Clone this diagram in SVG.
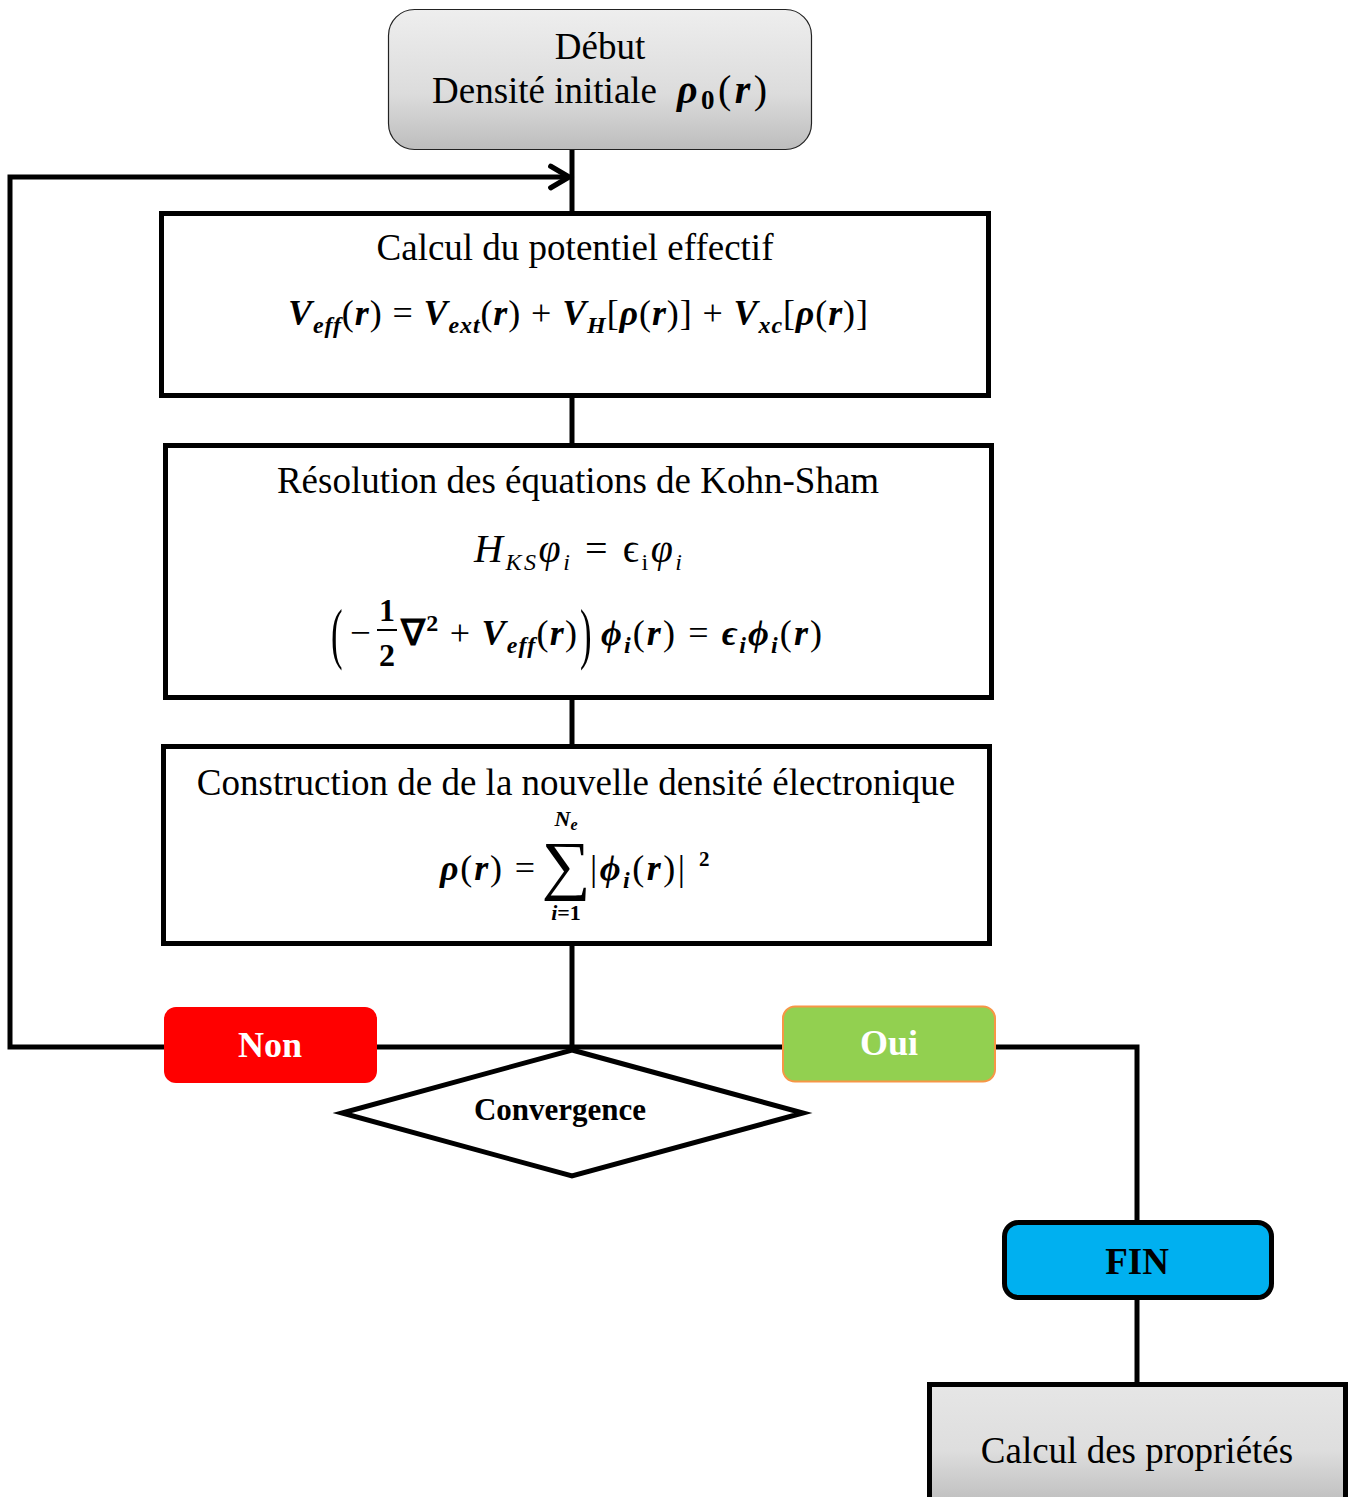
<svg xmlns="http://www.w3.org/2000/svg" width="1355" height="1497" viewBox="0 0 1355 1497">
<defs>
<linearGradient id="gTop" x1="0" y1="0" x2="0" y2="1">
<stop offset="0" stop-color="#eeeeee"/><stop offset="0.6" stop-color="#dcdcdc"/><stop offset="1" stop-color="#bdbdbd"/>
</linearGradient>
<linearGradient id="gBot" x1="0" y1="0" x2="0" y2="1">
<stop offset="0" stop-color="#e6e6e6"/><stop offset="0.5" stop-color="#dedede"/><stop offset="1" stop-color="#b8b8b8"/>
</linearGradient>
<marker id="arr" markerUnits="userSpaceOnUse" markerWidth="30" markerHeight="30" viewBox="-4 -4 26 28" refX="17" refY="10" orient="auto">
<path d="M0,0 L17,10 L0,20" fill="none" stroke="#000" stroke-width="5" stroke-linecap="round" stroke-linejoin="miter"/>
</marker>
<style>
.t{font-family:"Liberation Serif","Times New Roman",serif;font-size:37px;fill:#000}
.m{font-family:"Liberation Serif","Times New Roman",serif;font-size:36px;font-weight:bold;font-style:italic;fill:#000}
.mi{font-family:"Liberation Serif","Times New Roman",serif;font-size:40px;font-style:italic;fill:#000}
.u{font-style:normal;font-weight:normal}
.s{font-size:24px}
.box{fill:#fff;stroke:#000;stroke-width:5}
.ln{fill:none;stroke:#000;stroke-width:5}
.lab{font-family:"Liberation Serif","Times New Roman",serif;font-weight:bold;text-anchor:middle}
</style>
</defs>

<g id="connectors">
<line class="ln" x1="572" y1="149" x2="572" y2="213"/>
<polyline class="ln" points="572,1047 10,1047 10,177 569,177" marker-end="url(#arr)"/>
<line class="ln" x1="572" y1="396" x2="572" y2="445"/>
<line class="ln" x1="572" y1="698" x2="572" y2="746"/>
<line class="ln" x1="572" y1="944" x2="572" y2="1050"/>
<polyline class="ln" points="572,1047 1137,1047 1137,1222"/>
<line class="ln" x1="1137" y1="1298" x2="1137" y2="1383"/>
</g>

<g id="debut">
<rect x="388.5" y="9.5" width="423" height="140" rx="26" fill="url(#gTop)" stroke="#222" stroke-width="1.2"/>
<text class="t" x="600" y="59" text-anchor="middle">Début</text>
<text class="t" x="432" y="103">Densité initiale</text>
<text class="m" x="677" y="103" textLength="90" style="font-size:40px">ρ<tspan class="s" style="font-size:27px;font-style:normal" dy="6">0</tspan><tspan class="u" dy="-6">(</tspan>r<tspan class="u">)</tspan></text>
</g>

<g id="potentiel">
<rect class="box" x="161.5" y="213.5" width="827" height="182"/>
<text class="t" x="575" y="260" text-anchor="middle">Calcul du potentiel effectif</text>
<text class="m" x="288" y="325" textLength="580" lengthAdjust="spacing">V<tspan class="s" dy="8">eff</tspan><tspan class="u" dy="-8">(</tspan>r<tspan class="u">) = </tspan>V<tspan class="s" dy="8">ext</tspan><tspan class="u" dy="-8">(</tspan>r<tspan class="u">) + </tspan>V<tspan class="s" dy="8">H</tspan><tspan class="u" dy="-8">[</tspan>ρ<tspan class="u">(</tspan>r<tspan class="u">)] + </tspan>V<tspan class="s" dy="8">xc</tspan><tspan class="u" dy="-8">[</tspan>ρ<tspan class="u">(</tspan>r<tspan class="u">)]</tspan></text>
</g>

<g id="kohnsham">
<rect class="box" x="165.5" y="445.5" width="826" height="252"/>
<text class="t" x="578" y="493" text-anchor="middle">Résolution des équations de Kohn-Sham</text>
<text class="mi" x="474" y="562" textLength="208" lengthAdjust="spacing">H<tspan class="s" dy="8">KS</tspan><tspan dy="-8">φ</tspan><tspan class="s" dy="8">i</tspan><tspan class="u" dy="-8"> = ϵ</tspan><tspan class="u s" dy="8">i</tspan><tspan dy="-8">φ</tspan><tspan class="s" dy="8">i</tspan></text>
<text class="t" transform="translate(331,656) scale(0.62,1.2)" style="font-size:56px">(</text>
<text class="t" x="350" y="645">−</text>
<text class="m" x="387" y="621" text-anchor="middle" style="font-style:normal;font-size:32px">1</text>
<line x1="377" y1="630" x2="397" y2="630" stroke="#000" stroke-width="2"/>
<text class="m" x="387" y="666" text-anchor="middle" style="font-style:normal;font-size:32px">2</text>
<text class="m" x="401" y="645" textLength="176" lengthAdjust="spacing"><tspan style="font-style:normal">∇</tspan><tspan class="s u" dy="-14" style="font-weight:bold">2</tspan><tspan class="u" dy="14"> + </tspan>V<tspan class="s" dy="8">eff</tspan><tspan class="u" dy="-8">(</tspan>r<tspan class="u">)</tspan></text>
<text class="t" transform="translate(580,656) scale(0.62,1.2)" style="font-size:56px">)</text>
<text class="m" x="601" y="645" textLength="221" lengthAdjust="spacing">ϕ<tspan class="s" dy="8">i</tspan><tspan class="u" dy="-8">(</tspan>r<tspan class="u">) = </tspan>ϵ<tspan class="s" dy="8">i</tspan><tspan dy="-8">ϕ</tspan><tspan class="s" dy="8">i</tspan><tspan class="u" dy="-8">(</tspan>r<tspan class="u">)</tspan></text>
</g>

<g id="densite">
<rect class="box" x="163.5" y="746.5" width="826" height="197"/>
<text class="t" x="576" y="795" text-anchor="middle">Construction de de la nouvelle densité électronique</text>
<text class="m" x="440" y="880" textLength="95" lengthAdjust="spacing">ρ<tspan class="u">(</tspan>r<tspan class="u">) =</tspan></text>
<text class="t" transform="translate(566,887) scale(1.15,1.1)" text-anchor="middle" style="font-size:60px">∑</text>
<text class="m" x="566" y="826" text-anchor="middle" style="font-size:22px">N<tspan style="font-size:16px" dy="4">e</tspan></text>
<text class="m" x="566" y="920" text-anchor="middle" style="font-size:22px">i<tspan class="u" style="font-weight:bold">=1</tspan></text>
<text class="m" x="590" y="880" textLength="95" lengthAdjust="spacing"><tspan class="u">|</tspan>ϕ<tspan class="s" dy="8">i</tspan><tspan class="u" dy="-8">(</tspan>r<tspan class="u">)|</tspan></text>
<text class="m" x="699" y="866" style="font-size:21px;font-style:normal">2</text>
</g>

<g id="non">
<rect x="164" y="1007" width="213" height="76" rx="12" fill="#ff0000"/>
<text class="lab" x="270" y="1057" fill="#fff" style="font-size:36px">Non</text>
</g>

<g id="oui">
<rect x="783" y="1006.5" width="212" height="75" rx="12" fill="#92d050" stroke="#f79646" stroke-width="2"/>
<text class="lab" x="889" y="1055" fill="#fff" style="font-size:36px">Oui</text>
</g>

<g id="convergence">
<polygon points="572,1050 803,1113 572,1176 342,1113" fill="#fff" stroke="#000" stroke-width="5"/>
<text class="lab" x="560" y="1120" style="font-size:31px">Convergence</text>
</g>

<g id="fin">
<rect x="1004.5" y="1222.5" width="267" height="75" rx="14" fill="#00b0f0" stroke="#000" stroke-width="5"/>
<text class="lab" x="1137" y="1274" style="font-size:37px">FIN</text>
</g>

<g id="proprietes">
<rect x="929.5" y="1384.5" width="416" height="130" fill="url(#gBot)" stroke="#000" stroke-width="5"/>
<text class="t" x="1137" y="1463" text-anchor="middle">Calcul des propriétés</text>
</g>
</svg>
